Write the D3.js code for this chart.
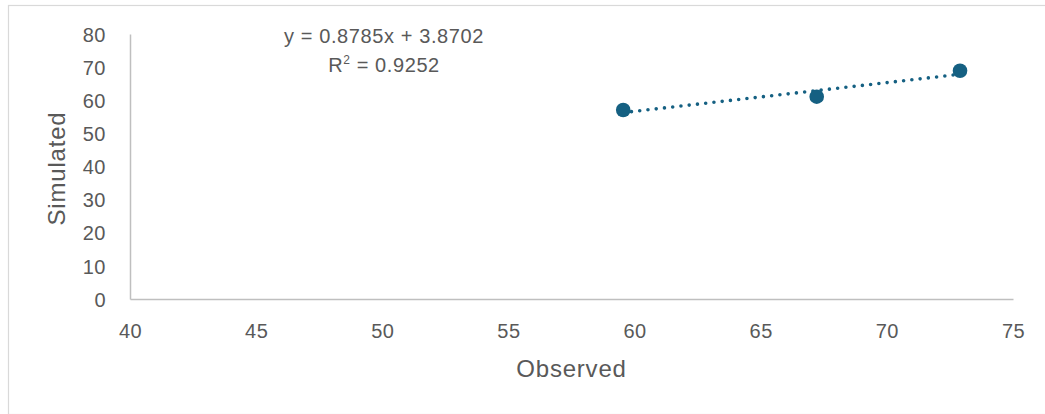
<!DOCTYPE html>
<html>
<head>
<meta charset="utf-8">
<script src="https://cdn.jsdelivr.net/npm/d3@7"></script>
<style>
  html, body { margin: 0; padding: 0; background: #fff; }
  svg { display: block; }
  text { font-family: "Liberation Sans", Arial, sans-serif; fill: #595959; }
</style>
</head>
<body>
<svg id="chart" width="1045" height="414"></svg>
<script>
// ---- data ----
const observed = [59.55, 67.22, 72.9];
const simulated = [57.06, 61.07, 68.9];
const xTicks = [40, 45, 50, 55, 60, 65, 70, 75];
const yTicks = [0, 10, 20, 30, 40, 50, 60, 70, 80];
const equationLabels = ["y = 0.8785x + 3.8702", "R", "2", " = 0.9252"];
const xTitle = "Observed";
const yTitle = "Simulated";

const svg = d3.select("#chart");
const W = 1045, H = 414;
const FONT = '"Liberation Sans", Arial, sans-serif';

// outer chart border (partially cropped like the reference)
svg.append("rect")
  .attr("x", 8.5).attr("y", 5.5)
  .attr("width", W + 10).attr("height", H - 5)
  .attr("fill", "none").attr("stroke", "#d9d9d9").attr("stroke-width", 1.2);

const plot = { left: 130, right: 1013, top: 34, bottom: 299 };
const x = d3.scaleLinear().domain([40, 75]).range([plot.left, plot.right]);
const y = d3.scaleLinear().domain([0, 80]).range([plot.bottom, plot.top]);

// axes
const xAxis = d3.axisBottom(x).tickValues(xTicks).tickSize(0).tickPadding(0).tickFormat(d3.format("d"));
const yAxis = d3.axisLeft(y).tickValues(yTicks).tickSize(0).tickPadding(0).tickFormat(d3.format("d"));

const gx = svg.append("g").attr("transform", `translate(0,${plot.bottom})`).call(xAxis);
gx.select(".domain").attr("stroke", "#bfbfbf").attr("stroke-width", 1.5);
gx.selectAll("text").attr("y", 39).attr("dy", 0).attr("font-size", 20)
  .attr("letter-spacing", 0.5)
  .style("font-family", FONT).attr("fill", "#595959");

const gy = svg.append("g").attr("transform", `translate(${plot.left},0)`).call(yAxis);
gy.select(".domain").attr("stroke", "#bfbfbf").attr("stroke-width", 1.5);
gy.selectAll("text").attr("x", -24).attr("dy", "0.36em").attr("font-size", 20)
  .attr("letter-spacing", 0.5)
  .style("font-family", FONT).attr("fill", "#595959");

// axis titles
svg.append("text")
  .attr("x", (plot.left + plot.right) / 2).attr("y", 377)
  .attr("text-anchor", "middle").attr("font-size", 24).attr("letter-spacing", 0.8)
  .text(xTitle);

svg.append("text")
  .attr("transform", `translate(65,${(plot.top + plot.bottom) / 2 + 2}) rotate(-90)`)
  .attr("text-anchor", "middle").attr("font-size", 24).attr("letter-spacing", 0.8)
  .text(yTitle);

// linear regression trendline
const n = observed.length;
const mx = d3.mean(observed), my = d3.mean(simulated);
let sxy = 0, sxx = 0;
for (let i = 0; i < n; i++) {
  sxy += (observed[i] - mx) * (simulated[i] - my);
  sxx += (observed[i] - mx) ** 2;
}
const slope = sxy / sxx, intercept = my - slope * mx;
const x0 = d3.min(observed), x1 = d3.max(observed);

svg.append("line")
  .attr("x1", x(x0)).attr("y1", y(slope * x0 + intercept))
  .attr("x2", x(x1)).attr("y2", y(slope * x1 + intercept))
  .attr("stroke", "#156082").attr("stroke-width", 3.6)
  .attr("stroke-linecap", "round").attr("stroke-dasharray", "0 8.3");

// points
svg.selectAll("circle.pt")
  .data(observed.map((v, i) => [v, simulated[i]]))
  .join("circle").attr("class", "pt")
  .attr("cx", d => x(d[0])).attr("cy", d => y(d[1]))
  .attr("r", 7.3).attr("fill", "#156082");

// equation label
const eqX = 384;
svg.append("text")
  .attr("x", eqX).attr("y", 43).attr("text-anchor", "middle").attr("font-size", 20)
  .attr("letter-spacing", 0.6)
  .text(equationLabels[0]);
const r2 = svg.append("text")
  .attr("x", eqX).attr("y", 72).attr("text-anchor", "middle").attr("font-size", 20)
  .attr("letter-spacing", 0.6);
r2.append("tspan").text(equationLabels[1]);
r2.append("tspan").attr("dy", -8).attr("font-size", 12).text(equationLabels[2]);
r2.append("tspan").attr("dy", 8).text(equationLabels[3]);
</script>
</body>
</html>
